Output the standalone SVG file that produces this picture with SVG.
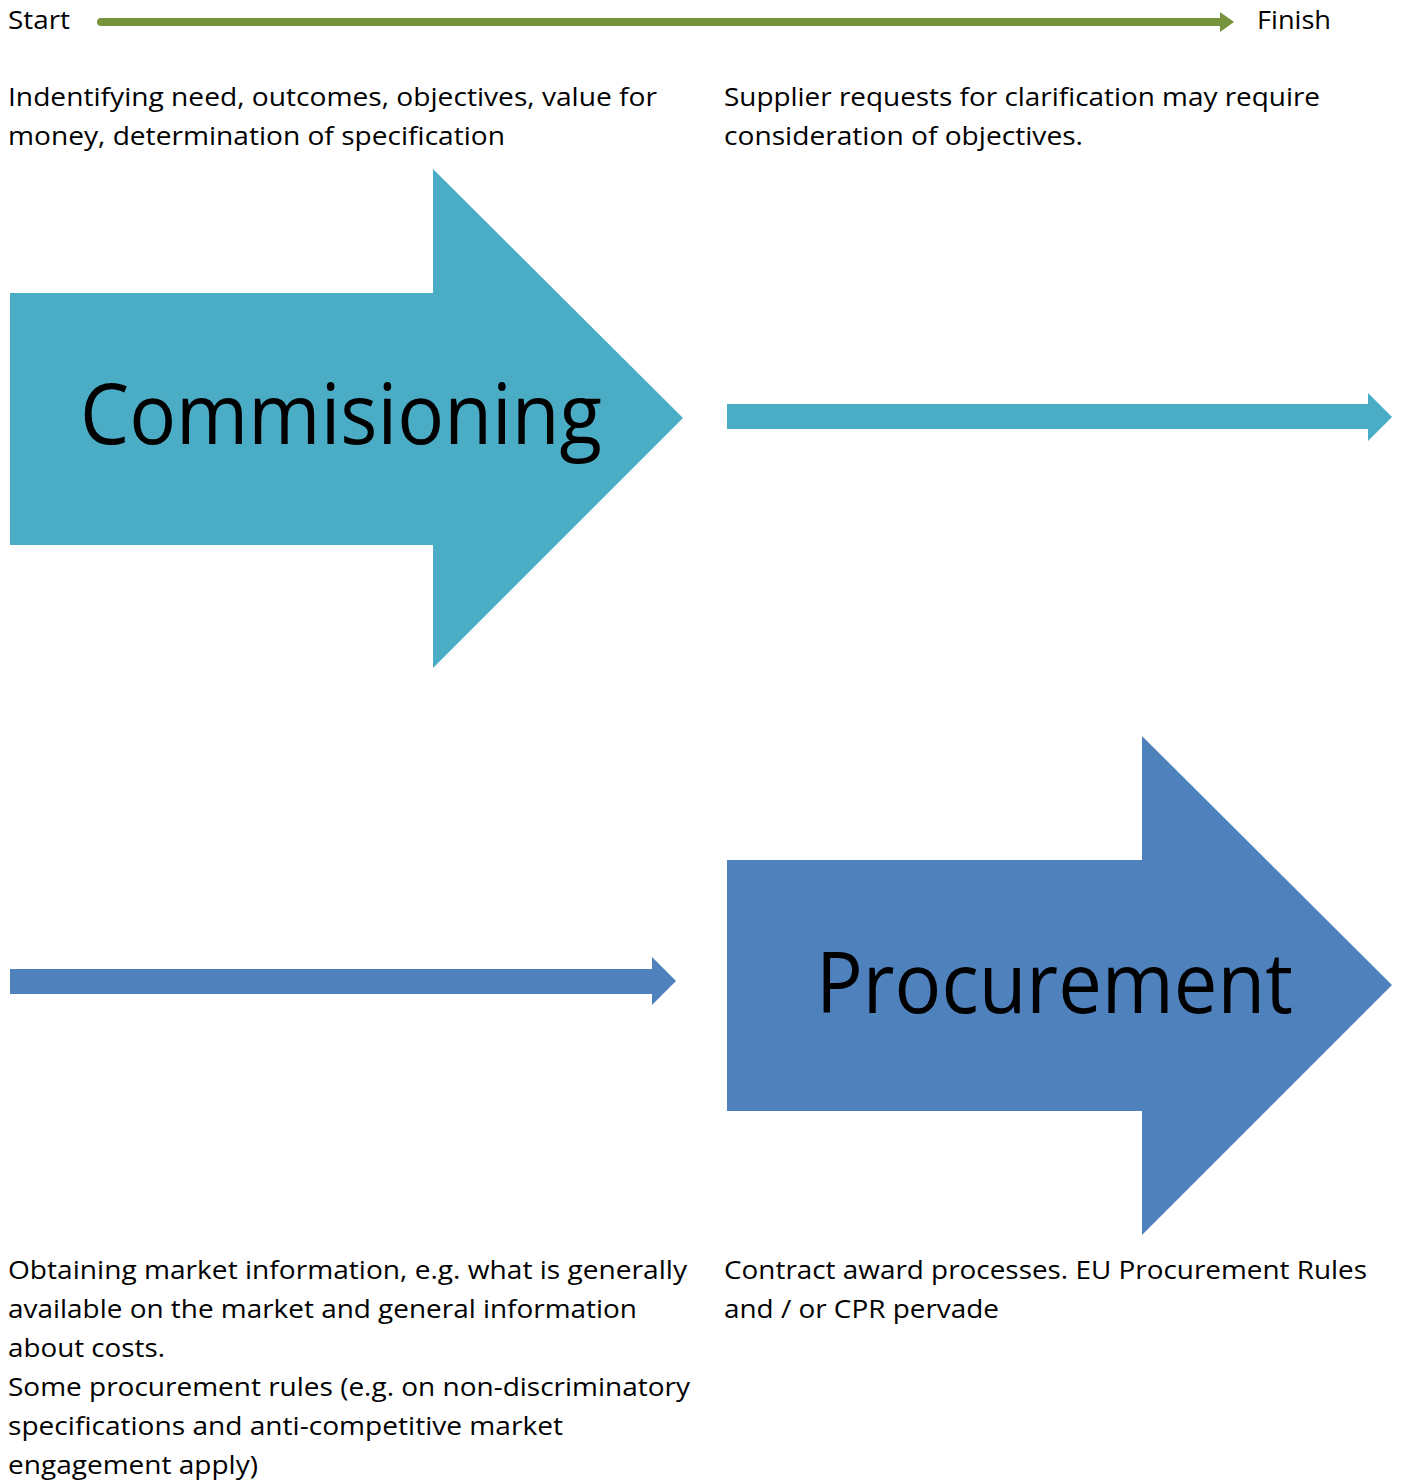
<svg xmlns="http://www.w3.org/2000/svg" width="1408" height="1481" viewBox="0 0 1408 1481">
  <style>
    .t { font-family: "Open Sans", "Noto Sans", "Liberation Sans", sans-serif; font-size: 26px; fill: #000; }
    .big { font-family: "Open Sans", "Noto Sans", "Liberation Sans", sans-serif; font-size: 84px; fill: #000; }
    .cyan { fill: #4BACC6; }
    .blue { fill: #4F81BD; }
  </style>
  <rect width="1408" height="1481" fill="#FFFFFF"/>

  <!-- timeline labels -->
  <g id="label-start">
    <text class="t" x="8" y="29" textLength="62" lengthAdjust="spacingAndGlyphs">Start</text>
  </g>
  <g id="label-finish">
    <text class="t" x="1257" y="29" textLength="74" lengthAdjust="spacingAndGlyphs">Finish</text>
  </g>

  <!-- notes above the stages -->
  <g id="note-commissioning">
    <text class="t" x="8" y="106" textLength="649" lengthAdjust="spacingAndGlyphs">Indentifying need, outcomes, objectives, value for</text>
    <text class="t" x="8" y="145" textLength="497" lengthAdjust="spacingAndGlyphs">money, determination of specification</text>
  </g>
  <g id="note-clarification">
    <text class="t" x="724" y="106" textLength="596" lengthAdjust="spacingAndGlyphs">Supplier requests for clarification may require</text>
    <text class="t" x="724" y="145" textLength="359" lengthAdjust="spacingAndGlyphs">consideration of objectives.</text>
  </g>

  <!-- stage: Commisioning -->
  <g id="stage-commissioning">
    <polygon class="cyan" points="10,293 433,293 433,169 683,418 433,668 433,545 10,545"/>
    <text class="big" x="80" y="444" textLength="522" lengthAdjust="spacingAndGlyphs">Commisioning</text>
  </g>

  <!-- stage: Procurement -->
  <g id="stage-procurement">
    <polygon class="blue" points="727,860 1142,860 1142,736 1392,985 1142,1235 1142,1111 727,1111"/>
    <text class="big" x="816" y="1013" textLength="477" lengthAdjust="spacingAndGlyphs">Procurement</text>
  </g>

  <!-- notes below the stages -->
  <g id="note-market">
    <text class="t" x="8" y="1279" textLength="679" lengthAdjust="spacingAndGlyphs">Obtaining market information, e.g. what is generally</text>
    <text class="t" x="8" y="1318" textLength="629" lengthAdjust="spacingAndGlyphs">available on the market and general information</text>
    <text class="t" x="8" y="1357" textLength="157" lengthAdjust="spacingAndGlyphs">about costs.</text>
    <text class="t" x="8" y="1396" textLength="682" lengthAdjust="spacingAndGlyphs">Some procurement rules (e.g. on non-discriminatory</text>
    <text class="t" x="8" y="1435" textLength="555" lengthAdjust="spacingAndGlyphs">specifications and anti-competitive market</text>
    <text class="t" x="8" y="1474" textLength="250" lengthAdjust="spacingAndGlyphs">engagement apply)</text>
  </g>
  <g id="note-award">
    <text class="t" x="724" y="1279" textLength="643" lengthAdjust="spacingAndGlyphs">Contract award processes. EU Procurement Rules</text>
    <text class="t" x="724" y="1318" textLength="275" lengthAdjust="spacingAndGlyphs">and / or CPR pervade</text>
  </g>

  <!-- connectors -->
  <g id="connectors">
    <!-- start-to-finish timeline -->
    <line x1="101" y1="22" x2="1221" y2="22" stroke="#77933C" stroke-width="8" stroke-linecap="round"/>
    <polygon points="1220,12 1234,22 1220,32" fill="#77933C"/>
    <!-- commissioning continues into procurement -->
    <polygon class="cyan" points="727,404 1368,404 1368,393 1392,417 1368,441 1368,429 727,429"/>
    <!-- procurement preceded by market engagement -->
    <polygon class="blue" points="10,969 652,969 652,957 676,981 652,1005 652,994 10,994"/>
  </g>
</svg>
